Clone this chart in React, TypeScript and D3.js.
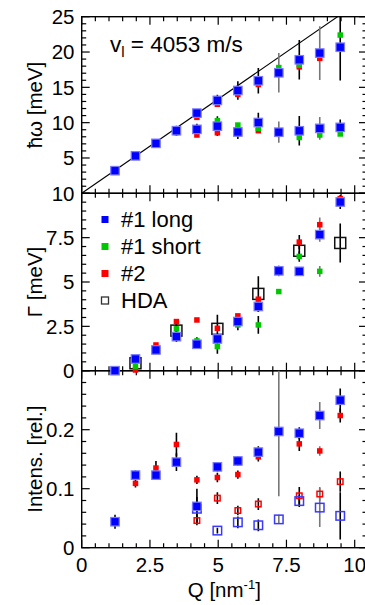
import React, { useEffect, useRef } from 'react'
import * as d3 from 'd3'

// momentum transfer grid, nm^-1
const Q = [1.22, 1.97, 2.72, 3.47, 4.22, 4.97, 5.72, 6.47, 7.22, 7.97, 8.72, 9.47]

// longitudinal sound velocity, m/s, and hbar in meV*s
const VL = 4053
const HBAR = 6.582e-13

// dispersion, hbar*omega [meV]: [Q, value, error]
const longUpper = [[Q[0], 3.2, 0], [Q[1], 5.3, 0], [Q[2], 7.07, 0], [Q[3], 8.86, 0.7], [Q[4], 11.35, 0.6], [Q[5], 13.15, 0.8],
  [Q[6], 14.55, 1.3], [Q[7], 15.93, 1.8], [Q[8], 17.06, 2.8], [Q[9], 18.9, 2.8], [Q[10], 19.85, 3.8], [Q[11], 20.68, 4.7]]
const longLower = [[Q[4], 9.05, 0.8], [Q[5], 9.5, 1.4], [Q[6], 8.68, 1.0], [Q[7], 10.02, 1.4], [Q[8], 8.65, 1.5],
  [Q[9], 8.85, 2.1], [Q[10], 9.19, 1.6], [Q[11], 9.33, 1.1]]
const shortUpper = [[Q[8], 17.8, 0], [Q[9], 18.15, 0], [Q[11], 22.4, 0]]
const shortLower = [[Q[5], 10.27, 0], [Q[6], 9.66, 0], [Q[7], 9.19, 0], [Q[8], 8.35, 0], [Q[9], 7.9, 0], [Q[10], 8.25, 0], [Q[11], 8.4, 0]]
const s2Upper = [[Q[3], 8.6, 0], [Q[4], 10.75, 0], [Q[5], 12.6, 0], [Q[6], 14.0, 0], [Q[7], 15.4, 0], [Q[9], 17.9, 0], [Q[10], 19.1, 0]]
const s2Lower = [[Q[4], 8.25, 0], [Q[5], 8.57, 0], [Q[6], 8.9, 0], [Q[7], 8.86, 0]]

// damping, Gamma [meV]
const longG = [[Q[0], 0, 0], [Q[1], 0.66, 0.2], [Q[2], 1.17, 0], [Q[3], 1.92, 0.3], [Q[4], 1.49, 0], [Q[5], 1.79, 0.2],
  [Q[6], 2.77, 0.3], [Q[7], 3.62, 0.3], [Q[8], 5.63, 0.3], [Q[9], 5.6, 0], [Q[10], 7.67, 0.4], [Q[11], 9.51, 0.4]]
const shortG = [[Q[1], 0.23, 0.2], [Q[2], 1.2, 0], [Q[3], 2.36, 0.3], [Q[4], 1.68, 0.2], [Q[5], 1.36, 0.4], [Q[6], 2.58, 0.3],
  [Q[7], 2.58, 0.5], [Q[8], 4.46, 0], [Q[9], 6.44, 0.3], [Q[10], 5.6, 0.3]]
const s2G = [[Q[1], 0.04, 0], [Q[2], 1.45, 0], [Q[3], 2.77, 0], [Q[4], 2.86, 0], [Q[5], 2.39, 0], [Q[6], 3.09, 0],
  [Q[7], 4.03, 0], [Q[9], 7.25, 0.4], [Q[10], 8.23, 0.4], [Q[11], 9.7, 0]]
const hdaG = [[Q[1], 0.42, 0.3], [Q[3], 2.26, 0.4], [Q[5], 2.36, 0.8], [Q[7], 4.33, 1.0], [Q[9], 6.76, 0.5], [Q[11], 7.2, 1.1]]

// intensities [rel.]
const longI = [[Q[0], 0.044, 0.012], [Q[1], 0.123, 0.008], [Q[2], 0.123, 0], [Q[3], 0.145, 0.015], [Q[4], 0.07, 0.03],
  [Q[5], 0.137, 0.008], [Q[6], 0.147, 0.008], [Q[7], 0.162, 0.01], [Q[8], 0.197, 0.11], [Q[9], 0.194, 0.01],
  [Q[10], 0.224, 0.023], [Q[11], 0.25, 0.02]]
const longIOpen = [[Q[4], 0.066, 0.02], [Q[5], 0.029, 0.005], [Q[6], 0.043, 0.01], [Q[7], 0.038, 0.01], [Q[8], 0.048, 0.008],
  [Q[9], 0.079, 0.01], [Q[10], 0.068, 0.033], [Q[11], 0.054, 0.04]]
const s2I = [[Q[1], 0.109, 0.007], [Q[2], 0.135, 0.012], [Q[3], 0.175, 0.02], [Q[4], 0.115, 0.007], [Q[5], 0.119, 0.008],
  [Q[6], 0.124, 0.007], [Q[7], 0.154, 0.008], [Q[9], 0.176, 0.012], [Q[10], 0.164, 0.008], [Q[11], 0.224, 0.012]]
const s2IOpen = [[Q[4], 0.046, 0.008], [Q[5], 0.084, 0.01], [Q[6], 0.063, 0.008], [Q[7], 0.074, 0.01], [Q[9], 0.088, 0.015],
  [Q[10], 0.091, 0.012], [Q[11], 0.112, 0.017]]

const legendItems = ['#1 long', '#1 short', '#2', 'HDA']
const xTicks = [0, 2.5, 5, 7.5, 10]

const BLUE = '#0000ff'
const GREEN = '#00c800'
const RED = '#ff0000'

export default function App() {
  const ref = useRef<SVGSVGElement>(null)

  useEffect(() => {
    const svg = d3.select(ref.current)
    svg.selectAll('*').remove()

    const x = d3.scaleLinear().domain([0, 10]).range([81.7, 354.7])
    const xl = x(0), xr = x(10.45) // right frame sits just past the picture

    const yTop = d3.scaleLinear().domain([0, 25]).range([193.3, 16.7])
    const yMid = d3.scaleLinear().domain([0, 10]).range([370.7, 193.3])
    const yBot = d3.scaleLinear().domain([0, 0.3]).range([547.7, 370.7])

    // the top panel's 0 sits under the middle panel's 10, so only 10 is written there
    const panels = [
      { y: yTop, major: 5, minor: 1, labels: [5, 10, 15, 20, 25], id: 'top' },
      { y: yMid, major: 2.5, minor: 0.5, labels: [0, 2.5, 5, 7.5, 10], id: 'mid' },
      { y: yBot, major: 0.1, minor: 0.02, labels: [0, 0.1, 0.2], id: 'bot' },
    ]

    const defs = svg.append('defs')
    panels.forEach(p => {
      const [b, t] = p.y.range()
      defs.append('clipPath').attr('id', 'clip-' + p.id)
        .append('rect').attr('x', xl).attr('y', t).attr('width', xr - xl).attr('height', b - t)
    })

    // frames + ticks
    const axes = svg.append('g').attr('stroke', '#000').attr('fill', 'none')
    panels.forEach(p => {
      const [b, t] = p.y.range()
      axes.append('rect').attr('x', xl).attr('y', t).attr('width', xr - xl).attr('height', b - t)
        .attr('stroke-width', 1.4)
      d3.range(0, 10.01, 0.5).forEach(v => {
        const len = v % 2.5 === 0 ? 8 : 4.5
        axes.append('line').attr('x1', x(v)).attr('x2', x(v)).attr('y1', b).attr('y2', b - len).attr('stroke-width', 1.2)
        axes.append('line').attr('x1', x(v)).attr('x2', x(v)).attr('y1', t).attr('y2', t + len).attr('stroke-width', 1.2)
      })
      const [d0, d1] = p.y.domain()
      const n = Math.round((d1 - d0) / p.minor)
      d3.range(0, n + 1).forEach(i => {
        const v = d0 + i * p.minor
        const isMajor = i % Math.round(p.major / p.minor) === 0
        const len = isMajor ? 8 : 4.5
        axes.append('line').attr('x1', xl).attr('x2', xl + len).attr('y1', p.y(v)).attr('y2', p.y(v)).attr('stroke-width', 1.2)
        axes.append('line').attr('x1', xr).attr('x2', xr - len).attr('y1', p.y(v)).attr('y2', p.y(v)).attr('stroke-width', 1.2)
      })
      svg.append('g').selectAll('text').data(p.labels).enter().append('text')
        .attr('x', 74.5).attr('y', d => p.y(d)).attr('dy', '0.36em')
        .attr('text-anchor', 'end').attr('font-size', 20.5)
        .text(d => String(d))
    })

    svg.append('g').selectAll('text').data(xTicks).enter().append('text')
      .attr('x', d => x(d)).attr('y', 572).attr('text-anchor', 'middle').attr('font-size', 20.5)
      .text(d => String(d))

    // axis titles
    const titles = [
      { y: yTop, text: 'ħω [meV]' },
      { y: yMid, text: 'Γ [meV]' },
      { y: yBot, text: 'Intens. [rel.]' },
    ]
    titles.forEach(t => {
      const [b, tp] = t.y.range()
      svg.append('text').attr('transform', `translate(42,${(b + tp) / 2}) rotate(-90)`)
        .attr('text-anchor', 'middle').attr('font-size', 20.5).text(t.text)
    })
    const qt = svg.append('text').attr('x', (xl + xr) / 2).attr('y', 597).attr('text-anchor', 'middle').attr('font-size', 20.5)
    qt.append('tspan').text('Q [nm')
    qt.append('tspan').attr('dy', -8).attr('font-size', 13).text('-1')
    qt.append('tspan').attr('dy', 8).text(']')

    // sound velocity line, hbar*v*Q with Q in nm^-1
    const slope = HBAR * VL * 1e9
    svg.append('path')
      .attr('clip-path', 'url(#clip-top)')
      .attr('d', d3.line<number>().x(d => x(d)).y(d => yTop(slope * d))([0, 10.45]))
      .attr('stroke', '#000').attr('stroke-width', 1.1).attr('fill', 'none')

    const vt = svg.append('text').attr('x', 110).attr('y', 52).attr('font-size', 22.5)
    vt.append('tspan').text('v')
    vt.append('tspan').attr('dy', 5).attr('font-size', 15).text('l')
    vt.append('tspan').attr('dy', -5).text(' = 4053 m/s')

    const errColor = (q: number) => (q === Q[8] || q === Q[10]) ? '#777' : '#000'

    const errors = (pts: number[][], y: d3.ScaleLinear<number, number>, id: string) => {
      svg.append('g').attr('clip-path', `url(#clip-${id})`)
        .selectAll('line').data(pts.filter(d => d[2] > 0)).enter().append('line')
        .attr('x1', d => x(d[0])).attr('x2', d => x(d[0]))
        .attr('y1', d => y(d[1] - d[2])).attr('y2', d => y(d[1] + d[2]))
        .attr('stroke', d => errColor(d[0])).attr('stroke-width', 1.6)
    }

    const squares = (pts: number[][], y: d3.ScaleLinear<number, number>, size: number, color: string, open = false) => {
      svg.append('g').selectAll('rect').data(pts).enter().append('rect')
        .attr('x', d => x(d[0]) - size / 2).attr('y', d => y(d[1]) - size / 2)
        .attr('width', size).attr('height', size)
        .attr('fill', open ? 'none' : color)
        .attr('stroke', open ? color : (color === BLUE ? '#7a7aff' : 'none'))
        .attr('stroke-width', open ? 1.5 : 1.2)
    }

    // top panel
    const topAll = [longUpper, longLower, shortUpper, shortLower, s2Upper, s2Lower]
    topAll.forEach(s => errors(s, yTop, 'top'))
    squares(s2Upper, yTop, 5.5, RED); squares(s2Lower, yTop, 5.5, RED)
    squares(shortUpper, yTop, 5.5, GREEN); squares(shortLower, yTop, 5.5, GREEN)
    squares(longUpper, yTop, 8.5, BLUE); squares(longLower, yTop, 8.5, BLUE)

    // middle panel
    ;[hdaG, s2G, shortG, longG].forEach(s => errors(s, yMid, 'mid'))
    squares(hdaG, yMid, 11, '#111', true)
    squares(s2G, yMid, 5.5, RED)
    squares(shortG, yMid, 5.5, GREEN)
    squares(longG, yMid, 8.5, BLUE)

    // bottom panel
    ;[longI, longIOpen, s2I, s2IOpen].forEach(s => errors(s, yBot, 'bot'))
    squares(s2IOpen, yBot, 5.5, RED, true)
    squares(longIOpen, yBot, 8.5, '#3a3aff', true)
    squares(s2I, yBot, 5.5, RED)
    squares(longI, yBot, 8.5, BLUE)

    // legend
    const colors = [BLUE, GREEN, RED, null]
    const lg = svg.append('g')
    legendItems.forEach((name, i) => {
      const cy = 219.5 + i * 27
      const c = colors[i]
      lg.append('rect').attr('x', 105 - 3.5).attr('y', cy - 3.5).attr('width', 7).attr('height', 7)
        .attr('fill', c ?? 'none').attr('stroke', c ? 'none' : '#333').attr('stroke-width', 1.3)
      lg.append('text').attr('x', 121).attr('y', cy).attr('dy', '0.36em').attr('font-size', 22).text(name)
    })
  }, [])

  return (
    <svg ref={ref} width={365} height={605}
      style={{ position: 'absolute', left: 0, top: 0, fontFamily: '"Liberation Sans", Arial, sans-serif' }} />
  )
}
